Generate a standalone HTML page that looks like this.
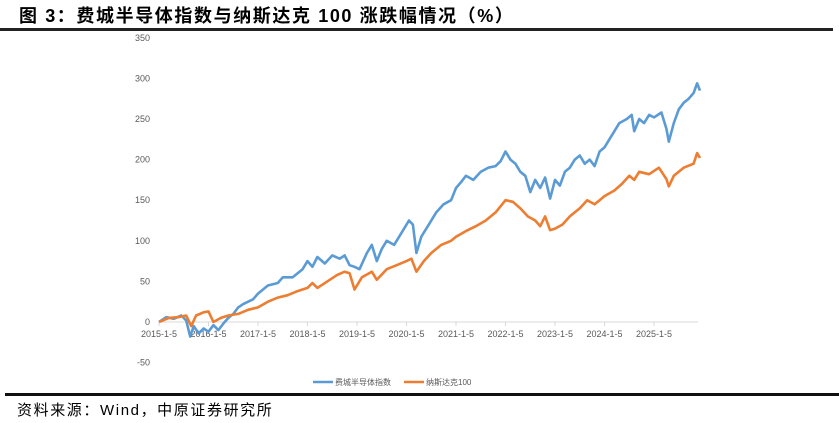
<!DOCTYPE html>
<html><head><meta charset="utf-8"><style>
body{margin:0;width:839px;height:423px;background:#fff;overflow:hidden;position:relative;font-family:"Liberation Sans","Noto Sans CJK SC",sans-serif}
#title{position:absolute;left:19px;top:2px;font-size:18px;letter-spacing:1.6px;font-weight:bold;color:#000;white-space:nowrap}
#tl{position:absolute;left:0;top:28px;width:833px;height:3px;background:#222}
#bl{position:absolute;left:5px;top:393px;width:834px;height:3px;background:#111}
#src{position:absolute;left:17px;top:399px;font-size:15px;letter-spacing:1.6px;color:#000}
svg{position:absolute;left:0;top:0}
</style></head><body>
<div id="title">图 3：费城半导体指数与纳斯达克 100 涨跌幅情况（%）</div>
<div id="tl"></div>
<svg id="c" width="839" height="423"></svg>
<div id="bl"></div>
<div id="src">资料来源：Wind，中原证券研究所</div>
<script>
const yTicks=[-50,0,50,100,150,200,250,300,350];
const xLabels=["2015-1-5","2016-1-5","2017-1-5","2018-1-5","2019-1-5","2020-1-5","2021-1-5","2022-1-5","2023-1-5","2024-1-5","2025-1-5"];
const soxT=[2015.0,2015.15,2015.3,2015.45,2015.55,2015.63,2015.7,2015.8,2015.9,2016.0,2016.1,2016.2,2016.3,2016.4,2016.5,2016.6,2016.7,2016.8,2016.9,2017.0,2017.2,2017.4,2017.5,2017.7,2017.9,2018.0,2018.1,2018.2,2018.35,2018.5,2018.65,2018.75,2018.85,2018.95,2019.05,2019.2,2019.3,2019.4,2019.5,2019.6,2019.75,2019.9,2020.05,2020.13,2020.2,2020.3,2020.45,2020.6,2020.75,2020.9,2021.0,2021.1,2021.2,2021.35,2021.5,2021.65,2021.8,2021.9,2022.0,2022.1,2022.2,2022.3,2022.4,2022.5,2022.6,2022.7,2022.8,2022.9,2023.0,2023.1,2023.2,2023.3,2023.4,2023.5,2023.6,2023.7,2023.8,2023.9,2024.0,2024.1,2024.2,2024.3,2024.45,2024.55,2024.6,2024.7,2024.8,2024.9,2025.0,2025.15,2025.25,2025.3,2025.4,2025.5,2025.6,2025.7,2025.8,2025.87,2025.93];
const soxV=[0,6,4,8,2,-18,-5,-14,-8,-12,-4,-10,-2,5,10,18,22,25,28,35,45,48,55,55,65,75,68,80,72,82,78,82,70,68,65,85,95,75,90,100,95,110,125,120,85,105,120,135,145,150,165,172,180,175,185,190,192,198,210,200,195,185,180,160,175,165,178,152,175,168,185,190,200,205,195,200,192,210,215,225,235,245,250,255,235,250,245,255,252,258,238,222,245,262,270,275,282,294,285];
const ndxT=[2015.0,2015.2,2015.4,2015.55,2015.65,2015.75,2015.9,2016.0,2016.1,2016.25,2016.4,2016.6,2016.8,2017.0,2017.2,2017.4,2017.6,2017.8,2018.0,2018.1,2018.2,2018.4,2018.6,2018.75,2018.85,2018.95,2019.1,2019.3,2019.4,2019.6,2019.8,2020.0,2020.1,2020.2,2020.35,2020.5,2020.7,2020.9,2021.0,2021.2,2021.4,2021.6,2021.8,2022.0,2022.15,2022.3,2022.45,2022.6,2022.7,2022.8,2022.9,2023.0,2023.15,2023.3,2023.5,2023.65,2023.8,2023.9,2024.0,2024.2,2024.35,2024.5,2024.6,2024.7,2024.9,2025.1,2025.25,2025.3,2025.4,2025.6,2025.8,2025.87,2025.93];
const ndxV=[0,5,6,8,-5,8,12,13,0,5,8,10,15,18,25,30,33,38,42,48,42,50,58,62,60,40,55,62,52,65,70,75,78,62,75,85,95,100,105,112,118,125,135,150,148,140,130,125,118,130,113,115,120,130,140,150,145,150,155,162,170,180,175,185,182,190,176,167,180,190,195,208,202];
const svg=document.getElementById('c');const NS='http://www.w3.org/2000/svg';
const X0=159,XW=49.5,Y0=322,YS=40.6/50;
const xs=t=>X0+(t-2015)*XW, ys=v=>Y0-v*YS;
function mk(tag,a){const e=document.createElementNS(NS,tag);for(const k in a)e.setAttribute(k,a[k]);svg.appendChild(e);return e;}
yTicks.forEach(v=>{const t=mk('text',{x:150,y:ys(v)+3,'text-anchor':'end','font-size':9,fill:'#595959'});t.textContent=v;

});
const ax=mk('line',{x1:X0,x2:698,y1:Y0,y2:Y0,stroke:'#d9d9d9','stroke-width':1});


xLabels.forEach((l,i)=>{const x=xs(2015+i);
const tk=mk('line',{x1:x,x2:x,y1:Y0,y2:Y0+4,stroke:'#d9d9d9'});


const t=mk('text',{x:x,y:337,'text-anchor':'middle','font-size':9,fill:'#595959'});t.textContent=l;

});
function line(T,V,c,n){const p=mk('polyline',{points:T.map((t,i)=>xs(t).toFixed(1)+','+ys(V[i]).toFixed(1)).join(' '),fill:'none',stroke:c,'stroke-width':2.6,'stroke-linejoin':'round'});

}
line(soxT,soxV,'#5b9bd5','sox-line');
line(ndxT,ndxV,'#ed7d31','ndx-line');
const l1=mk('line',{x1:313,x2:333,y1:382,y2:382,stroke:'#5b9bd5','stroke-width':2.5});


const t1=mk('text',{x:335,y:385,'font-size':8,fill:'#595959'});t1.textContent='费城半导体指数';


const l2=mk('line',{x1:404,x2:424,y1:382,y2:382,stroke:'#ed7d31','stroke-width':2.5});


const t2=mk('text',{x:426,y:385,'font-size':8,fill:'#595959'});t2.textContent='纳斯达克100';


</script>
</body></html>
